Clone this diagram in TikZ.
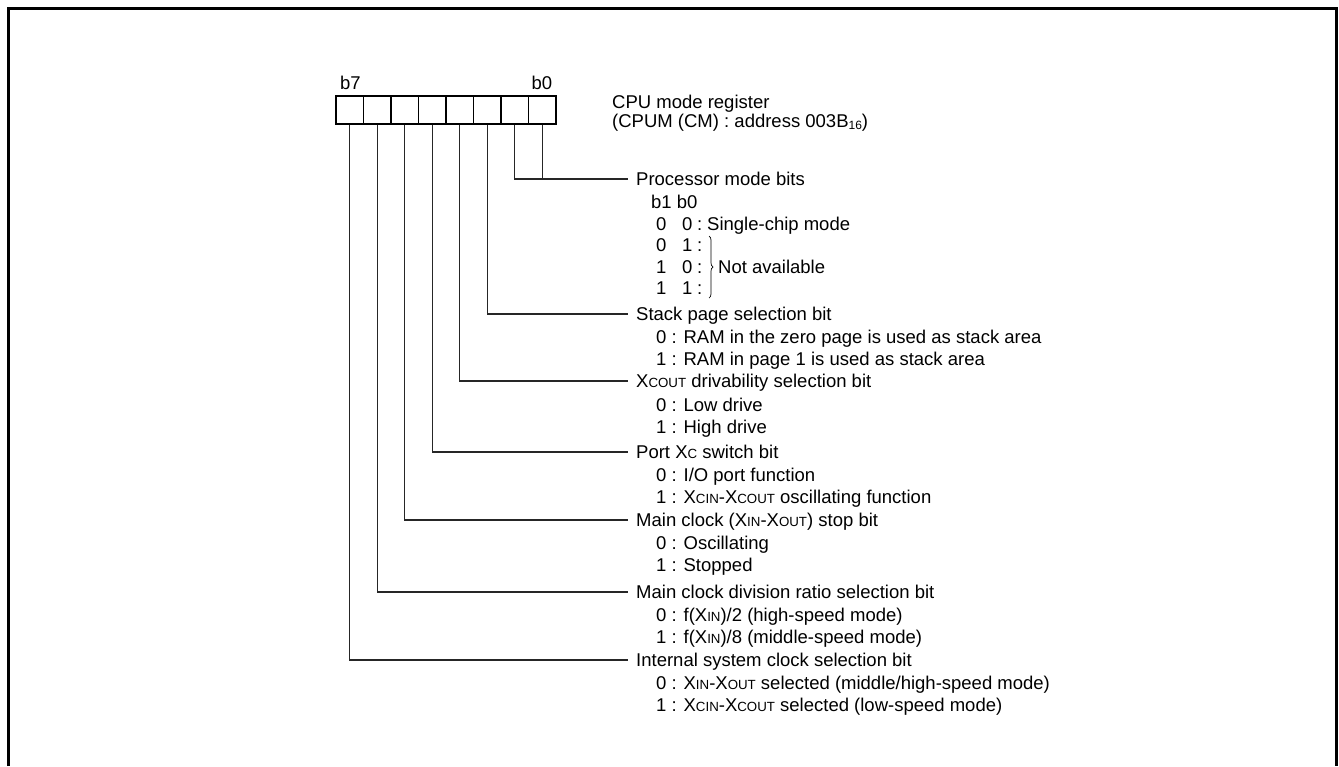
\documentclass[tikz,border=0pt]{standalone}
\usepackage{fontspec}
\setmainfont{Liberation Sans}
\usetikzlibrary{decorations.pathreplacing}
\newcommand{\smc}[1]{{\fontsize{13.3}{13.3}\selectfont #1}}
\newcommand{\subsc}[1]{\raisebox{-2.5pt}{\fontsize{12}{12}\selectfont #1}}
\tikzset{
  txt/.style={anchor=base west, inner sep=0pt, font=\fontsize{18.5}{22}\selectfont},
  conn/.style={line width=1.2pt, draw=black!85},
  cell/.style={draw, line width=1.6pt, minimum width=27.5pt, minimum height=28pt, inner sep=0pt},
  frame/.style={line width=3pt, draw=black}
}
\begin{document}
\begin{tikzpicture}[x=1pt,y=-1pt]
\useasboundingbox (0,0) rectangle (1339,766);
\draw[frame] (8.5,766) -- (8.5,8) -- (1336.5,8) -- (1336.5,766);
% register cells
\foreach \i in {0,...,7}{
  \node[cell] (c\i) at ({542.25-27.5*\i},110) {};
}
\node[txt] (lb7) at (340,89.5) {b7};
\node[txt] (lb0) at (531.5,89.5) {b0};
\node[txt] (title1) at (612,108) {CPU mode register};
\node[txt] (title2) at (612,127) {(CPUM (CM) : address 003B\subsc{16})};
% connector end points
\coordinate (pProc) at (628,179);
\coordinate (pStack) at (628,314);
\coordinate (pXcout) at (628,381);
\coordinate (pPort) at (628,452);
\coordinate (pStop) at (628,520);
\coordinate (pDiv) at (628,592);
\coordinate (pInt) at (628,660);
\draw[conn] (c1.south) |- (pProc);
\draw[conn] (c0.south) -- (c0.south |- pProc);
\draw[conn] (c2.south) |- (pStack);
\draw[conn] (c3.south) |- (pXcout);
\draw[conn] (c4.south) |- (pPort);
\draw[conn] (c5.south) |- (pStop);
\draw[conn] (c6.south) |- (pDiv);
\draw[conn] (c7.south) |- (pInt);
% Processor mode bits
\node[txt] (hProc) at (636,185.6) {Processor mode bits};
\node[txt] (bb) at (651,208.6) {b1 b0};
\node[txt] (r1a) at (656,230) {0};
\node[txt] (r1b) at (682,230) {0};
\node[txt] (r1c) at (697,230) {:};
\node[txt] (r1t) at (707,230) {Single-chip mode};
\node[txt] (r2a) at (656,251.5) {0};
\node[txt] (r2b) at (682,251.5) {1};
\node[txt] (r2c) at (697,251.5) {:};
\node[txt] (r3a) at (656,273) {1};
\node[txt] (r3b) at (682,273) {0};
\node[txt] (r3c) at (697,273) {:};
\node[txt] (r4a) at (656,294.5) {1};
\node[txt] (r4b) at (682,294.5) {1};
\node[txt] (r4c) at (697,294.5) {:};
\draw[decorate, decoration={brace, amplitude=4pt}, line width=0.7pt] (709,236) -- (709,298);
\node[txt] (na) at (718,273.6) {Not available};
% Stack
\node[txt] (hStack) at (636,320.6) {Stack page selection bit};
\node[txt] (s0) at (656,343.6) {0 : RAM in the zero page is used as stack area};
\node[txt] (s1) at (656,365.6) {1 : RAM in page 1 is used as stack area};
% Xcout
\node[txt] (hXcout) at (636,387.6) {X\smc{COUT} drivability selection bit};
\node[txt] (x0) at (656,411) {0 : Low drive};
\node[txt] (x1) at (656,433) {1 : High drive};
% Port
\node[txt] (hPort) at (636,458.6) {Port X\smc{C} switch bit};
\node[txt] (p0) at (656,481.6) {0 : I/O port function};
\node[txt] (p1) at (656,503.6) {1 : X\smc{CIN}-X\smc{COUT} oscillating function};
% Main clock stop
\node[txt] (hStop) at (636,526.6) {Main clock (X\smc{IN}-X\smc{OUT}) stop bit};
\node[txt] (m0) at (656,549.6) {0 : Oscillating};
\node[txt] (m1) at (656,571.6) {1 : Stopped};
% Division
\node[txt] (hDiv) at (636,598.6) {Main clock division ratio selection bit};
\node[txt] (d0) at (656,621.6) {0 : f(X\smc{IN})/2 (high-speed mode)};
\node[txt] (d1) at (656,643.6) {1 : f(X\smc{IN})/8 (middle-speed mode)};
% Internal
\node[txt] (hInt) at (636,666.6) {Internal system clock selection bit};
\node[txt] (i0) at (656,689.6) {0 : X\smc{IN}-X\smc{OUT} selected (middle/high-speed mode)};
\node[txt] (i1) at (656,711.6) {1 : X\smc{CIN}-X\smc{COUT} selected (low-speed mode)};
\end{tikzpicture}
\end{document}
